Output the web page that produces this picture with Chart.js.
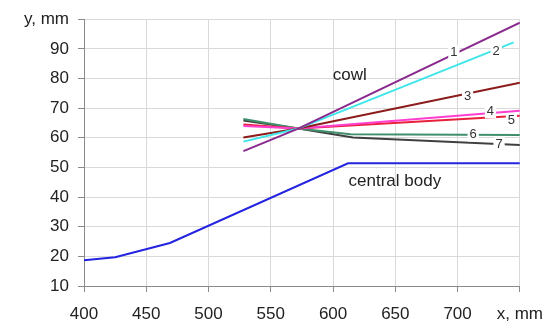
<!DOCTYPE html>
<html>
<head>
<meta charset="utf-8">
<script src="https://cdn.jsdelivr.net/npm/chart.js@4.4.0/dist/chart.umd.min.js"></script>
<style>
    html, body { margin: 0; padding: 0; background: #ffffff; }
</style>
</head>
<body>
<canvas id="nozzleChart" width="555" height="324"></canvas>
<script>
(function () {
    'use strict';

    // central body contour
    const bodyX = [400, 425, 469, 612, 750];
    const bodyY = [18.7, 19.7, 24.5, 51.4, 51.4];

    // cowl variants 1..7
    const cowl1X = [528, 572, 750];
    const cowl1Y = [55.5, 63.1, 98.8];
    const cowl2X = [528, 572, 745];
    const cowl2Y = [58.7, 63.1, 92.2];
    const cowl3X = [528, 572, 750];
    const cowl3Y = [60.1, 63.1, 78.6];
    const cowl4X = [528, 572, 750];
    const cowl4Y = [64.0, 63.1, 69.1];
    const cowl5X = [528, 572, 750];
    const cowl5Y = [64.5, 63.1, 67.4];
    const cowl6X = [528, 572, 614, 750];
    const cowl6Y = [66.3, 63.1, 61.2, 60.9];
    const cowl7X = [528, 572, 616, 750];
    const cowl7Y = [65.8, 63.1, 60.1, 57.6];

    const cowlColors = ['#8a2a8e', '#3ee6ea', '#8c1c1c', '#ff3fd0', '#e8203c', '#3f8f6c', '#404040'];

    // numbers written on the cowl lines
    const markText = ['1', '2', '3', '4', '5', '6', '7'];
    const markX = [697, 731, 708, 726.4, 743.2, 712.5, 733.3];
    const markY = [88.7, 89.0, 74.0, 68.9, 65.7, 61.1, 57.8];

    const xTicks = { min: 400, max: 750, step: 50, title: 'x, mm' };
    const yTicks = { min: 10, max: 100, step: 10, title: 'y, mm' };

    const textFont = "'Liberation Sans', Arial, sans-serif";

    function pairs(xs, ys) {
        return xs.map((x, i) => ({ x: x, y: ys[i] }));
    }

    const cowls = [
        [cowl1X, cowl1Y], [cowl2X, cowl2Y], [cowl3X, cowl3Y], [cowl4X, cowl4Y],
        [cowl5X, cowl5Y], [cowl6X, cowl6Y], [cowl7X, cowl7Y],
    ];

    const datasets = cowls.map((c, i) => ({
        label: markText[i],
        data: pairs(c[0], c[1]),
        borderColor: cowlColors[i],
        borderWidth: 2,
        pointRadius: 0,
        tension: 0,
    }));
    datasets.push({
        label: 'central body',
        data: pairs(bodyX, bodyY),
        borderColor: '#2424e0',
        borderWidth: 2,
        pointRadius: 0,
        tension: 0,
    });

    const annotations = {
        id: 'annotations',
        afterDatasetsDraw(chart) {
            const ctx = chart.ctx;
            const xs = chart.scales.x;
            const ys = chart.scales.y;
            ctx.save();
            ctx.textAlign = 'center';
            ctx.textBaseline = 'middle';
            ctx.font = '13px ' + textFont;
            markText.forEach((t, i) => {
                const px = xs.getPixelForValue(markX[i]);
                const py = ys.getPixelForValue(markY[i]);
                const w = ctx.measureText(t).width + 4;
                ctx.fillStyle = '#ffffff';
                ctx.fillRect(px - w / 2, py - 7, w, 14);
                ctx.fillStyle = '#333333';
                ctx.fillText(t, px, py);
            });
            ctx.font = '17px ' + textFont;
            ctx.fillStyle = '#222222';
            ctx.fillText('cowl', xs.getPixelForValue(613.5), ys.getPixelForValue(81.2));
            ctx.fillText('central body', xs.getPixelForValue(649.6), ys.getPixelForValue(45.2));
            ctx.restore();
        },
    };

    new Chart(document.getElementById('nozzleChart'), {
        type: 'line',
        data: { datasets: datasets },
        options: {
            responsive: false,
            animation: false,
            layout: { padding: { left: 0, right: 35, top: 18, bottom: 0 } },
            plugins: {
                legend: { display: false },
                tooltip: { enabled: false },
            },
            scales: {
                x: {
                    type: 'linear',
                    min: xTicks.min,
                    max: xTicks.max,
                    afterFit(scale) { scale.height = 38; },
                    ticks: {
                        stepSize: xTicks.step,
                        color: '#222222',
                        font: { family: textFont, size: 17 },
                        padding: 12,
                        maxRotation: 0,
                        callback: (v) => (v === xTicks.max ? xTicks.title : v),
                    },
                    grid: { color: '#d9d9d9', tickColor: '#8a8a8a', tickLength: 6 },
                    border: { color: '#8a8a8a', width: 1 },
                },
                y: {
                    type: 'linear',
                    min: yTicks.min,
                    max: yTicks.max,
                    afterFit(scale) { scale.width = 84; },
                    ticks: {
                        stepSize: yTicks.step,
                        color: '#222222',
                        font: { family: textFont, size: 17 },
                        padding: 9,
                        callback: (v) => (v === yTicks.max ? yTicks.title : v),
                    },
                    grid: { color: '#d9d9d9', tickColor: '#8a8a8a', tickLength: 6 },
                    border: { color: '#8a8a8a', width: 1 },
                },
            },
        },
        plugins: [annotations],
    });
})();
</script>
</body>
</html>
